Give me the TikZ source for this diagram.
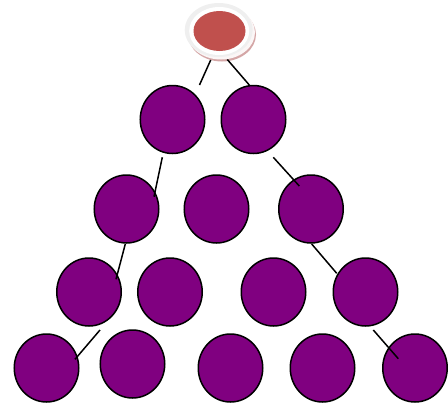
\documentclass[tikz,border=0pt]{standalone}
\usetikzlibrary{shapes.geometric}
\definecolor{nodepurple}{HTML}{800080}
\definecolor{rootred}{HTML}{C0504D}
\definecolor{ringgrey}{HTML}{EFEFEF}
\definecolor{shadowpink}{HTML}{D4A6A6}
\tikzset{
  leaf/.style={ellipse, draw=black, line width=1.5pt, fill=nodepurple, minimum width=64.5pt, minimum height=68pt, inner sep=0pt},
  link/.style={draw=black, line width=1.5pt},
}
\begin{document}
\begin{tikzpicture}[x=1pt,y=-1pt]
\useasboundingbox (0,0) rectangle (448,407);
% root
\fill[shadowpink] (222,34.5) ellipse [x radius=34, y radius=27];
\fill[white!90!shadowpink] (221,32.5) ellipse [x radius=34, y radius=27];
\node[ellipse, fill=ringgrey, minimum width=68pt, minimum height=54pt, inner sep=0pt] (root) at (218.7,30) {};
\fill[white] (219.2,31) ellipse [x radius=30, y radius=24];
\node[ellipse, fill=rootred, minimum width=52pt, minimum height=40pt, inner sep=0pt] (rootin) at (219.5,31) {};
% row 1
\node[leaf] (a1) at (172.5,119.5) {};
\node[leaf] (a2) at (253.5,119.5) {};
% row 2
\node[leaf] (b1) at (126.5,209) {};
\node[leaf] (b2) at (216.5,209) {};
\node[leaf] (b3) at (311,209) {};
% row 3
\node[leaf] (c1) at (89,292) {};
\node[leaf] (c2) at (170,292) {};
\node[leaf] (c3) at (273.5,292) {};
\node[leaf] (c4) at (365.5,292) {};
% row 4
\node[leaf] (d1) at (46.5,368) {};
\node[leaf] (d2) at (132.5,364) {};
\node[leaf] (d3) at (230.5,368) {};
\node[leaf] (d4) at (322.5,368) {};
\node[leaf] (d5) at (415,368) {};
% connector ends
\coordinate (r1s) at (210.7,60);  \coordinate (r1e) at (199.5,85);
\coordinate (r2s) at (227.3,59.5); \coordinate (r2e) at (249.3,85);
\coordinate (a1s) at (162.3,157.3); \coordinate (a1e) at (154,196.7);
\coordinate (a2s) at (273.3,157.3); \coordinate (a2e) at (299.3,186);
\coordinate (b1s) at (125.3,244); \coordinate (b1e) at (116,279.3);
\coordinate (b3s) at (311.7,244); \coordinate (b3e) at (336.7,273.3);
\coordinate (c1s) at (100,330); \coordinate (c1e) at (75,359.3);
\coordinate (c4s) at (373.3,330); \coordinate (c4e) at (398.3,358.7);
\draw[link] (r1s) -- (r1e);
\draw[link] (r2s) -- (r2e);
\draw[link] (a1s) -- (a1e);
\draw[link] (a2s) -- (a2e);
\draw[link] (b1s) -- (b1e);
\draw[link] (b3s) -- (b3e);
\draw[link] (c1s) -- (c1e);
\draw[link] (c4s) -- (c4e);
\end{tikzpicture}
\end{document}
